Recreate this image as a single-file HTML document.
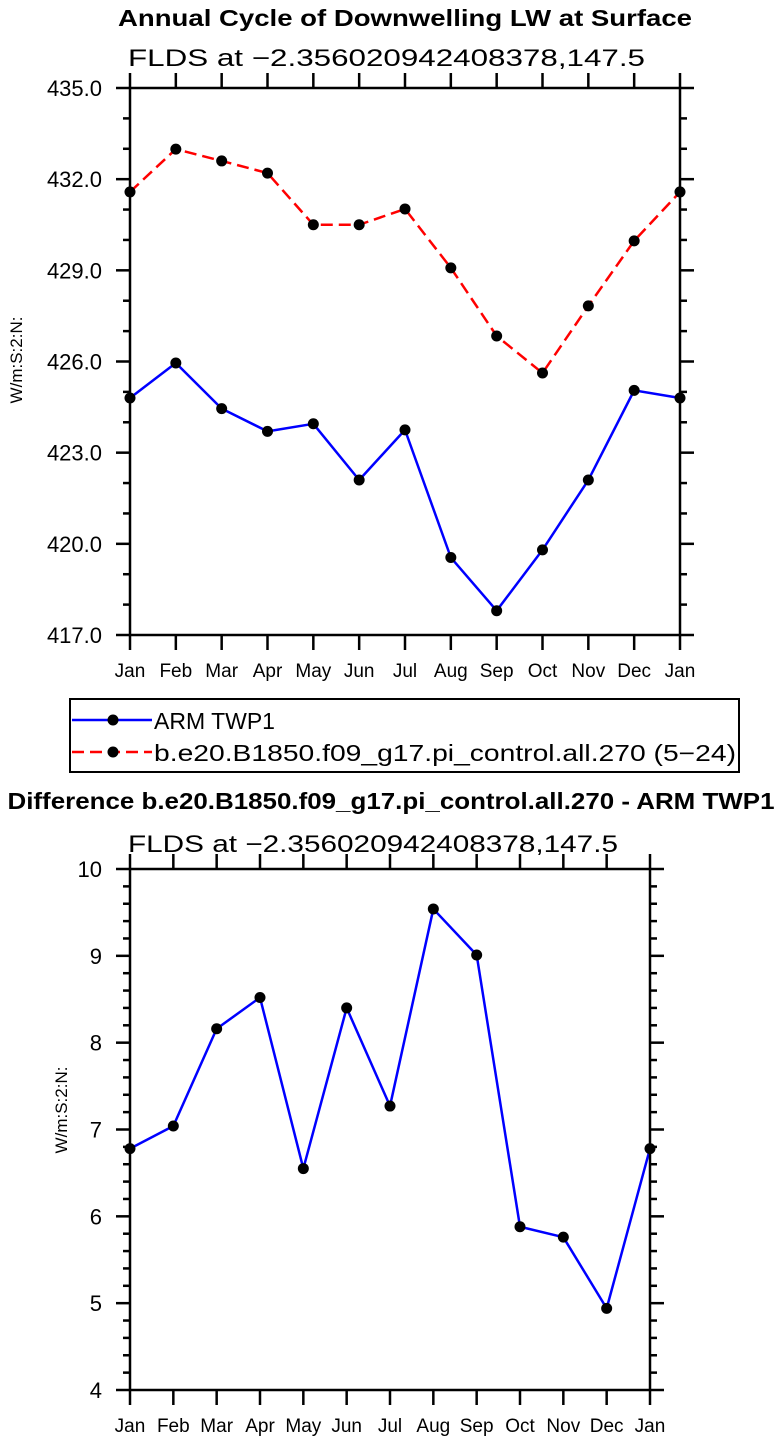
<!DOCTYPE html>
<html><head><meta charset="utf-8">
<style>
html,body{margin:0;padding:0;background:#fff;}
svg{display:block;}
text{font-family:"Liberation Sans","DejaVu Sans",sans-serif;fill:#000;}
</style></head>
<body>
<svg id="chart" width="780" height="1439" viewBox="0 0 780 1439" xmlns="http://www.w3.org/2000/svg">
<text x="405" y="26" font-size="23" font-weight="bold" text-anchor="middle" textLength="574" lengthAdjust="spacingAndGlyphs">Annual Cycle of Downwelling LW at Surface</text>
<text x="128" y="66" font-size="24" textLength="517" lengthAdjust="spacingAndGlyphs">FLDS at −2.356020942408378,147.5</text>
<text transform="translate(22,360) rotate(-90)" font-size="17" text-anchor="middle">W/m:S:2:N:</text>
<g id="legend">
<rect x="70" y="699" width="669" height="73" fill="#fff" stroke="#000" stroke-width="2"/>
<g>
<line x1="72" y1="720" x2="152" y2="720" stroke="#0000ff" stroke-width="2.5"/>
<circle cx="113" cy="720" r="5.5" fill="#000"/>
<text x="154" y="729" font-size="23">ARM TWP1</text>
</g>
<g>
<line x1="72" y1="752" x2="152" y2="752" stroke="#ff0000" stroke-width="2.5" stroke-dasharray="12,6"/>
<circle cx="113" cy="752" r="5.5" fill="#000"/>
<text x="154" y="761" font-size="23" textLength="582" lengthAdjust="spacingAndGlyphs">b.e20.B1850.f09_g17.pi_control.all.270 (5−24)</text>
</g>
</g>
<text x="391" y="809" font-size="23" font-weight="bold" text-anchor="middle" textLength="767" lengthAdjust="spacingAndGlyphs">Difference b.e20.B1850.f09_g17.pi_control.all.270 - ARM TWP1</text>
<text x="128" y="852" font-size="24" textLength="490" lengthAdjust="spacingAndGlyphs">FLDS at −2.356020942408378,147.5</text>
<text transform="translate(67,1110) rotate(-90)" font-size="17" text-anchor="middle">W/m:S:2:N:</text>
</svg>
<script>
const months = ["Jan","Feb","Mar","Apr","May","Jun","Jul","Aug","Sep","Oct","Nov","Dec","Jan"];
const armValues = [424.8,425.95,424.45,423.7,423.95,422.1,423.75,419.55,417.8,419.8,422.1,425.05,424.8];
const modelValues = [431.58,432.99,432.6,432.2,430.5,430.5,431.02,429.08,426.84,425.62,427.83,429.97,431.58];
const diffValues = [6.78,7.04,8.16,8.52,6.55,8.4,7.27,9.54,9.01,5.88,5.76,4.94,6.78];
const topTickLabels = ["417.0","420.0","423.0","426.0","429.0","432.0","435.0"];
const bottomTickLabels = ["4","5","6","7","8","9","10"];

const NS = "http://www.w3.org/2000/svg";
const svg = document.getElementById("chart");
function mk(tag, attrs, parent){
  const e = document.createElementNS(NS, tag);
  for (const k in attrs) e.setAttribute(k, attrs[k]);
  (parent||svg).appendChild(e);
  return e;
}
function drawPanel(p){
  const xs = i => p.x0 + (p.x1 - p.x0) * i / (months.length - 1);
  const ys = v => p.y1 - (p.y1 - p.y0) * (v - p.vmin) / (p.vmax - p.vmin);
  const g = mk("g", {});
  
  
  const tk = {stroke:"#000","stroke-width":2.5};
  const nMinor = Math.round((p.vmax - p.vmin) / p.minorStep);
  for (let j = 0; j <= nMinor; j++){
    const v = p.vmin + j * p.minorStep;
    const y = ys(v);
    const major = Math.abs(((v - p.vmin) / p.majorStep) - Math.round((v - p.vmin) / p.majorStep)) < 1e-6;
    const len = major ? 14 : 7;
    const t1 = mk("line", Object.assign({x1:p.x0-len,y1:y,x2:p.x0,y2:y}, tk), g);
    
    
    const t2 = mk("line", Object.assign({x1:p.x1,y1:y,x2:p.x1+len,y2:y}, tk), g);
    
    
  }
  p.tickLabels.forEach((lab, k) => {
    const v = p.vmin + k * p.majorStep;
    const t = mk("text", {x:102,y:ys(v)+8,"font-size":22,"text-anchor":"end"}, g);
    t.textContent = lab;
    
    
  });
  months.forEach((m, i) => {
    const x = xs(i);
    const a = mk("line", Object.assign({x1:x,y1:p.y1,x2:x,y2:p.y1+15}, tk), g);
    
    
    const b = mk("line", Object.assign({x1:x,y1:p.y0-15,x2:x,y2:p.y0}, tk), g);
    
    
    const t = mk("text", {x:x,y:p.y1+42,"font-size":19,"text-anchor":"middle"}, g);
    t.textContent = m;
    
    
  });
  p.series.forEach(s => {
    const pts = s.values.map((v,i)=>xs(i)+","+ys(v)).join(" ");
    const pl = mk("polyline", {points:pts,fill:"none",stroke:s.color,"stroke-width":2.5,"stroke-dasharray":s.dash||"none","stroke-linejoin":"round"}, g);
    
    
    s.values.forEach((v,i) => {
      const c = mk("circle", {cx:xs(i),cy:ys(v),r:5.5,fill:"#000"}, g);
      
      
    });
  });
  const fr = mk("rect", {x:p.x0,y:p.y0,width:p.x1-p.x0,height:p.y1-p.y0,fill:"none",stroke:"#000","stroke-width":2.5}, g);
  
  
}
drawPanel({name:"annual-cycle-plot",x0:130,x1:680,y0:88,y1:635,vmin:417,vmax:435,majorStep:3,minorStep:1,tickLabels:topTickLabels,
  series:[{name:"model",values:modelValues,color:"#ff0000",dash:"12,6"},{name:"arm",values:armValues,color:"#0000ff"}]});
drawPanel({name:"difference-plot",x0:130,x1:650,y0:869,y1:1390,vmin:4,vmax:10,majorStep:1,minorStep:0.2,tickLabels:bottomTickLabels,
  series:[{name:"difference",values:diffValues,color:"#0000ff"}]});
</script>
</body></html>
